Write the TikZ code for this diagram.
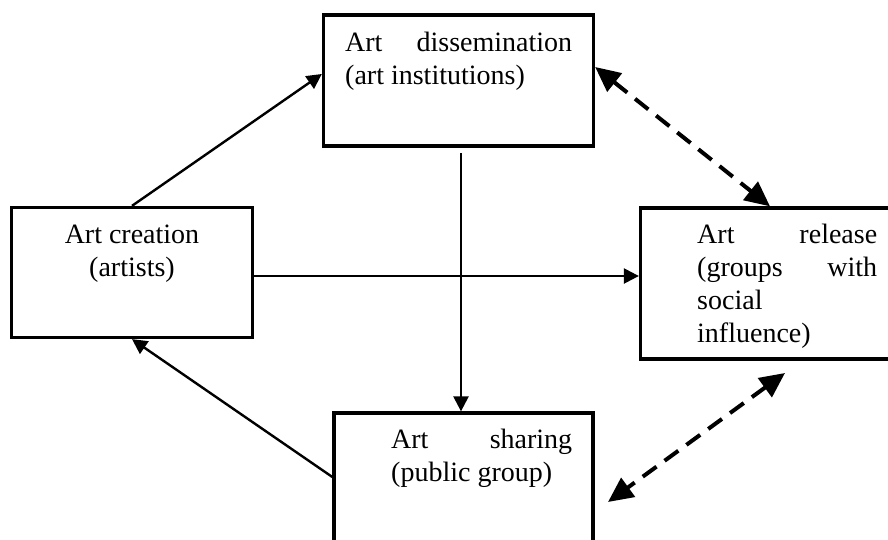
\documentclass[tikz,border=0pt]{standalone}
\usepackage{fontspec}
\setmainfont{Liberation Serif}
\usetikzlibrary{arrows.meta}
\begin{document}
\begin{tikzpicture}[x=1pt,y=-1pt,
  box/.style={draw, line width=3.3pt, inner sep=0pt},
  txt/.style={inner sep=0pt, anchor=base west, font=\fontsize{28}{33}\selectfont},
  flow/.style={line width=2.4pt, -{Triangle[length=15pt,width=15pt]}},
  link/.style={line width=4pt, dash pattern=on 17pt off 10pt,
    {Triangle[length=25pt,width=23pt]}-{Triangle[length=25pt,width=23pt]}}]
\useasboundingbox (0,0) rectangle (888,540);
\clip (0,0) rectangle (888,540);

% boxes
\node[box, minimum width=270pt, minimum height=131pt] (top) at (458.5,80.5) {};
\node[box, minimum width=241pt, minimum height=130pt] (left) at (132,272.5) {};
\node[box, minimum width=260pt, minimum height=151pt] (right) at (770.5,283.5) {};
\node[box, minimum width=259pt, minimum height=147pt] (bottom) at (463.5,486.5) {};

% box texts
\node[txt] (topT) at (345,52) {\parbox[t]{227pt}{\makebox[\linewidth][s]{Art dissemination}\\(art institutions)}};
\node[txt, anchor=base] (leftT) at (132,243) {\parbox[t]{200pt}{\centering Art creation\\(artists)}};
\node[txt] (rightT) at (697,243) {\parbox[t]{180pt}{\makebox[\linewidth][s]{Art release}\\\makebox[\linewidth][s]{(groups with}\\social\\influence)}};
\node[txt] (bottomT) at (391,448) {\parbox[t]{181pt}{\makebox[\linewidth][s]{Art sharing}\\(public group)}};

% reference points for connector ends
\coordinate (y74) at (0,74);
\coordinate (y276) at (0,276);
\coordinate (y477) at (0,477);
\coordinate (y67) at (0,67);
\coordinate (vs) at (461,153);
\coordinate (rt) at (770,0);
\coordinate (d1) at (785,373);
\coordinate (d2) at (608,502);

% solid flows
\draw[flow] (left.north) -- (top.west |- y74);
\draw[flow] (left.east |- y276) -- (right.west |- y276);
\draw[flow] (vs) -- (vs |- bottom.north);
\draw[flow] (bottom.west |- y477) -- (left.south);

% dashed two-way links
\draw[link] (top.east |- y67) -- (rt |- right.north);
\draw[link] (d1) -- (d2);
\end{tikzpicture}
\end{document}
